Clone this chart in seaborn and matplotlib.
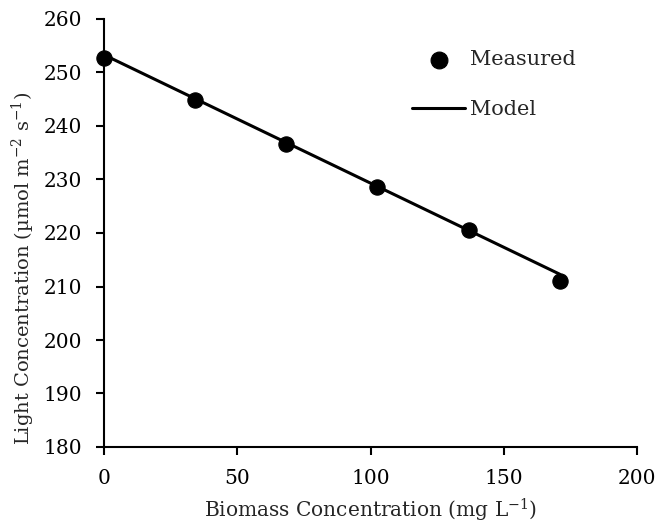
import matplotlib
matplotlib.use("Agg")
import matplotlib.pyplot as plt
import seaborn as sns
import pandas as pd

biomass = [0, 34.2, 68.4, 102.6, 136.8, 171.0]
measured = [252.8, 244.8, 236.6, 228.6, 220.5, 211.0]
model = [253.3, 245.1, 236.9, 228.7, 220.5, 212.3]

sns.set_style("ticks")
plt.rcParams['font.family'] = ['DejaVu Serif']
plt.rcParams['mathtext.fontset'] = 'dejavuserif'

df = pd.DataFrame({"x": biomass, "measured": measured, "model": model})

fig = plt.figure(figsize=(6.6, 5.27), dpi=100)
ax = fig.add_axes([104/660, 1-447/527, 533/660, 428/527])

sns.lineplot(data=df, x="x", y="model", ax=ax, color="black", linewidth=2.2, label="Model")
sns.scatterplot(data=df, x="x", y="measured", ax=ax, color="black", s=120, edgecolor="black",
                zorder=3, label="Measured")

ax.set_xlim(0, 200)
ax.set_ylim(180, 260)
ax.set_xticks([0, 50, 100, 150, 200])
ax.set_yticks(range(180, 261, 10))
for s in ["top", "right"]:
    ax.spines[s].set_visible(False)
for s in ["left", "bottom"]:
    ax.spines[s].set_linewidth(1.5)
    ax.spines[s].set_color("black")
ax.tick_params(axis="both", direction="out", length=6, width=1.5, labelsize=14.5, colors="black")
ax.tick_params(axis="x", pad=10)
ax.tick_params(axis="y", pad=10)
ax.set_xlabel("Biomass Concentration (mg L$^{-1}$)", fontsize=14.5, labelpad=6)
ax.set_ylabel("Light Concentration (µmol m$^{-2}$ s$^{-1}$)", fontsize=14, labelpad=6)
ax.yaxis.set_label_coords(-0.125, 0.416)

handles, labels = ax.get_legend_handles_labels()
order = [labels.index("Measured"), labels.index("Model")]
ax.legend([handles[i] for i in order], [labels[i] for i in order], loc="upper left",
          bbox_to_anchor=(412/660, 1-50/527), bbox_transform=fig.transFigure,
          frameon=False, fontsize=15, handlelength=2.55, borderpad=0, borderaxespad=0,
          handletextpad=0.25, labelspacing=1.5, markerscale=1.1)
for c in ax.collections:
    c.set_clip_on(False)

fig.savefig("out.png", dpi=100)
